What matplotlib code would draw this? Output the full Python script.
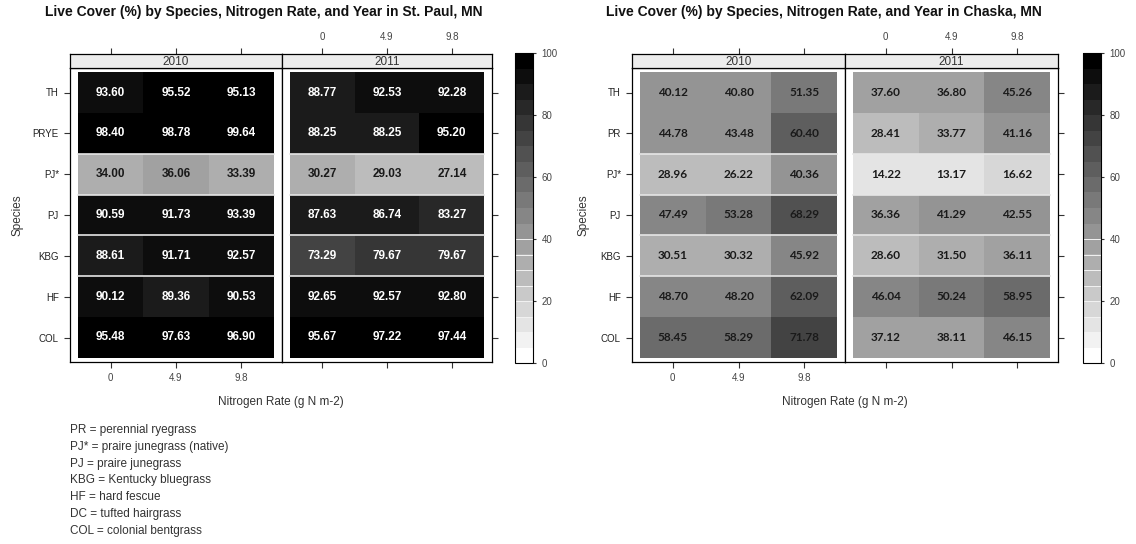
import numpy as np
import matplotlib
matplotlib.use('Agg')
import matplotlib.pyplot as plt
from matplotlib.colors import BoundaryNorm

#%%
# Data (rows top to bottom, columns = N rate)
n_rates = ['0', '4.9', '9.8']
species_stpaul = ['TH', 'PRYE', 'PJ*', 'PJ', 'KBG', 'HF', 'COL']
species_chaska = ['TH', 'PR', 'PJ*', 'PJ', 'KBG', 'HF', 'COL']
years = ['2010', '2011']

stpaul_2010 = [[93.60, 95.52, 95.13], [98.40, 98.78, 99.64], [34.00, 36.06, 33.39],
               [90.59, 91.73, 93.39], [88.61, 91.71, 92.57], [90.12, 89.36, 90.53],
               [95.48, 97.63, 96.90]]
stpaul_2011 = [[88.77, 92.53, 92.28], [88.25, 88.25, 95.20], [30.27, 29.03, 27.14],
               [87.63, 86.74, 83.27], [73.29, 79.67, 79.67], [92.65, 92.57, 92.80],
               [95.67, 97.22, 97.44]]
chaska_2010 = [[40.12, 40.80, 51.35], [44.78, 43.48, 60.40], [28.96, 26.22, 40.36],
               [47.49, 53.28, 68.29], [30.51, 30.32, 45.92], [48.70, 48.20, 62.09],
               [58.45, 58.29, 71.78]]
chaska_2011 = [[37.60, 36.80, 45.26], [28.41, 33.77, 41.16], [14.22, 13.17, 16.62],
               [36.36, 41.29, 42.55], [28.60, 31.50, 36.11], [46.04, 50.24, 58.95],
               [37.12, 38.11, 46.15]]

legend_lines = ['PR = perennial ryegrass', 'PJ* = praire junegrass (native)',
                'PJ = praire junegrass', 'KBG = Kentucky bluegrass', 'HF = hard fescue',
                'DC = tufted hairgrass', 'COL = colonial bentgrass']

#%%
W, H = 1136, 544
fig = plt.figure(figsize=(W / 100, H / 100), dpi=100)
fig.patch.set_facecolor('white')

levels = np.arange(0, 101, 5)
cmap = matplotlib.colormaps['gray_r'].resampled(20)
norm = BoundaryNorm(levels, cmap.N)
arial = ['Liberation Sans', 'DejaVu Sans']
dark = '#333333'


def box(x1, x2, y1, y2):
    # pixel box (y from top) -> figure fraction
    return [x1 / W, 1 - y2 / H, (x2 - x1) / W, (y2 - y1) / H]


def draw_site(panels, cbar_x, title, title_x, ylab_x, species, data, num_font, num_size, light_text):
    mesh = None
    for k, (x1, x2) in enumerate(panels):
        vals = np.array(data[k])
        ax = fig.add_axes(box(x1, x2, 68, 362))
        mesh = ax.pcolormesh(np.arange(-0.5, 3), np.arange(-0.5, 7), vals,
                             cmap=cmap, norm=norm)
        ax.set_xlim(-0.62, 2.62)
        ax.set_ylim(6.6, -0.6)
        for yb in [1.5, 2.5, 3.5, 4.5]:
            ax.plot([-0.5, 2.5], [yb, yb], color='#e6e6e6', lw=1.2)
        for i in range(vals.shape[0]):
            for j in range(vals.shape[1]):
                v = vals[i, j]
                col = 'white' if (light_text and v > 60) else '#1a1a1a'
                ax.text(j, i, f'{v:.2f}', ha='center', va='center', color=col,
                        fontsize=num_size, fontweight='bold', family=num_font)
        for s in ax.spines.values():
            s.set_linewidth(0.9)
        ax.set_xticks(range(3))
        ax.set_yticks(range(7))
        ax.tick_params(direction='out', length=4.5, width=0.8, color=dark,
                       labelsize=7, labelcolor='#444444', top=False)
        if k == 0:
            ax.set_xticklabels(n_rates, family=arial)
            ax.set_yticklabels(species, family=arial, fontsize=7, color='#222222')
            ax.tick_params(axis='y', left=True, right=False)
        else:
            ax.set_xticklabels([])
            ax.set_yticklabels([])
            ax.tick_params(axis='y', left=False, right=True)
        # strip with year
        sax = fig.add_axes(box(x1, x2, 54, 68))
        sax.set_facecolor('#ececec')
        sax.set_xlim(-0.62, 2.62)
        sax.set_ylim(0, 1)
        sax.set_yticks([])
        sax.set_xticks(range(3))
        sax.xaxis.tick_top()
        sax.tick_params(axis='x', direction='out', length=4.5, width=0.8, color=dark,
                        labelsize=7, labelcolor='#444444', pad=4)
        sax.set_xticklabels(n_rates if k == 1 else [], family=arial)
        for s in sax.spines.values():
            s.set_linewidth(0.9)
        sax.text(1, 0.45, years[k], ha='center', va='center', fontsize=8.5,
                 color=dark, family=arial)

    # colour key
    cax = fig.add_axes(box(cbar_x[0], cbar_x[1], 53, 363))
    cb = fig.colorbar(mesh, cax=cax, ticks=[0, 20, 40, 60, 80, 100])
    cb.outline.set_linewidth(0.8)
    cax.minorticks_off()
    for v in range(10, 45, 5):
        cax.axhline(v, color='#f2f2f2', lw=0.7)
    cax.tick_params(length=2.5, width=0.8, color=dark, labelsize=7, labelcolor='#444444')
    for t in cax.get_yticklabels():
        t.set_family(arial)

    fig.text(title_x / W, 1 - 12 / H, title, ha='center', va='center', fontsize=10,
             fontweight='bold', family=arial, color='#111111')
    fig.text(ylab_x / W, 1 - 215 / H, 'Species', rotation=90, ha='center', va='center',
             fontsize=8.5, family=arial, color=dark)
    xmid = (panels[0][0] + panels[1][1]) / 2
    fig.text(xmid / W, 1 - 402 / H, 'Nitrogen Rate (g N m-2)', ha='center', va='center',
             fontsize=8.5, family=arial, color=dark)


#%%
draw_site([(70, 282), (282, 492)], (515, 533),
          'Live Cover (%) by Species, Nitrogen Rate, and Year in St. Paul, MN', 264, 18,
          species_stpaul, [stpaul_2010, stpaul_2011], arial, 8.5, True)
draw_site([(632, 845), (845, 1058)], (1083, 1101),
          'Live Cover (%) by Species, Nitrogen Rate, and Year in Chaska, MN', 824, 583,
          species_chaska, [chaska_2010, chaska_2011], ['Lato', 'DejaVu Sans'], 8.5, False)

for n, line in enumerate(legend_lines):
    fig.text(70 / W, 1 - (430 + n * 16.8) / H, line, ha='left', va='center',
             fontsize=8.5, family=arial, color=dark)

fig.savefig('out.png', dpi=100)
